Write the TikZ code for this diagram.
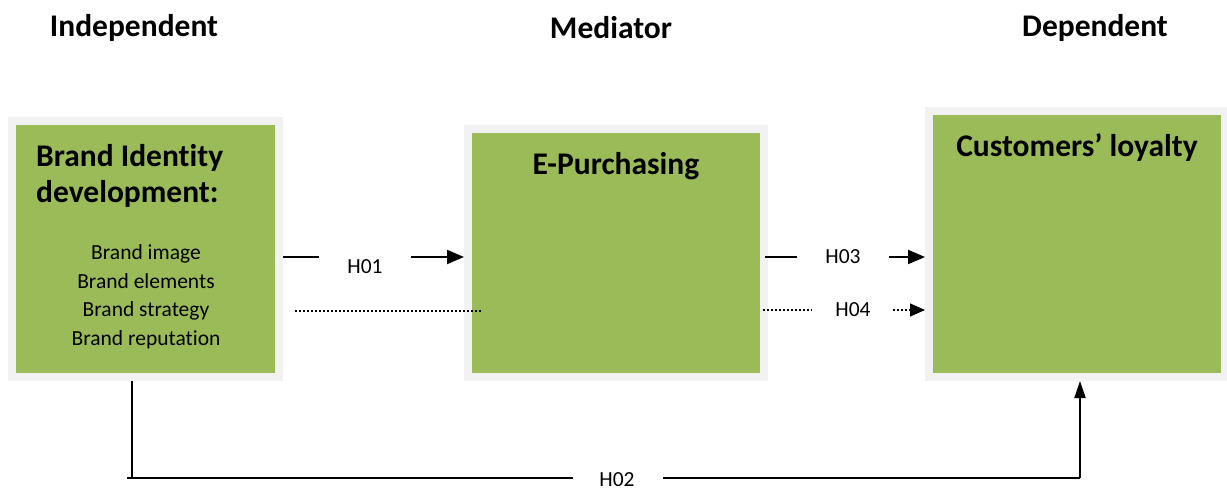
\documentclass[tikz,border=0pt]{standalone}
\usepackage{fontspec}
\setmainfont{Carlito}[Ligatures={NoCommon,NoDiscretionary,NoContextual}]
\usetikzlibrary{arrows.meta}
\definecolor{boxgreen}{HTML}{9BBB59}
\definecolor{boxgray}{HTML}{F2F2F2}
\begin{document}
\begin{tikzpicture}[x=1pt,y=-1pt,
  varbox/.style={draw=boxgray, line width=8pt, fill=boxgreen, inner sep=0pt, anchor=north west},
  head/.style={font=\fontsize{31.5}{36}\selectfont\bfseries, inner sep=0pt},
  lbl/.style={font=\fontsize{21.5}{28.5}\selectfont, inner sep=0pt},
  conn/.style={line width=2pt},
  thinconn/.style={line width=1.5pt},
  dotline/.style={line width=1.5pt, dash pattern=on 1.5pt off 2.5pt},
  tip/.style={-{Triangle[length=17pt,width=14pt]}},
  smalltip/.style={-{Triangle[length=15pt,width=13pt]}},
  uptip/.style={-{Triangle[length=17pt,width=11pt]}}]
\useasboundingbox (0,0) rectangle (1227,490);

% column headings
\node[head] (thind) at (134,28) {Independent};
\node[head] (thmed) at (611,28) {Mediator};
\node[head] (thdep) at (1095,28) {Dependent};

% boxes
\node[varbox, minimum width=267pt, minimum height=256pt] (ind) at (8,117) {};
\node[varbox, minimum width=296pt, minimum height=248pt] (med) at (464,125) {};
\node[varbox, minimum width=296pt, minimum height=266pt] (dep) at (925,107) {};

% box texts
\node[head, align=left, anchor=west] (indt) at (36,176) {Brand Identity\\development:};
\node[lbl, align=center] (indl) at (146,297) {Brand image\\Brand elements\\Brand strategy\\Brand reputation};
\node[head] (medt) at (616,166) {E-Purchasing};
\node[head] (dept) at (1077,148) {Customers’ loyalty};

% H01
\coordinate (h01l) at (319,257);
\coordinate (h01r) at (411,257);
\node[lbl] (h01) at (365,267) {H01};
\draw[conn] (ind.east |- h01l) -- (h01l);
\draw[conn,tip] (h01r) -- (med.west |- h01r);

% dotted line between independent and mediator
\coordinate (d1s) at (295,311);
\coordinate (d1e) at (482,311);
\draw[dotline] (d1s) -- (d1e);

% H03
\coordinate (h03s) at (765,257);
\coordinate (h03l) at (797,257);
\coordinate (h03r) at (889,257);
\node[lbl] (h03) at (843,257) {H03};
\draw[conn] (h03s) -- (h03l);
\draw[conn,tip] (h03r) -- (dep.west |- h03r);

% H04
\coordinate (h04s) at (763,310);
\coordinate (h04l) at (812,310);
\coordinate (h04r) at (893,310);
\node[lbl] (h04) at (853,310) {H04};
\draw[dotline] (h04s) -- (h04l);
\draw[dotline,smalltip] (h04r) -- (dep.west |- h04r);

% H02
\coordinate (c1) at (132,478);
\coordinate (h02s) at (127,478);
\coordinate (h02l) at (573,478);
\coordinate (h02r) at (663,478);
\coordinate (c2) at (1080,478);
\node[lbl] (h02) at (617,479.5) {H02};
\draw[thinconn] (ind.south -| c1) -- (c1);
\draw[conn] (h02s) -- (h02l);
\draw[conn] (h02r) -- (c2);
\draw[conn,uptip] (c2) -- (dep.south -| c2);
\end{tikzpicture}
\end{document}
